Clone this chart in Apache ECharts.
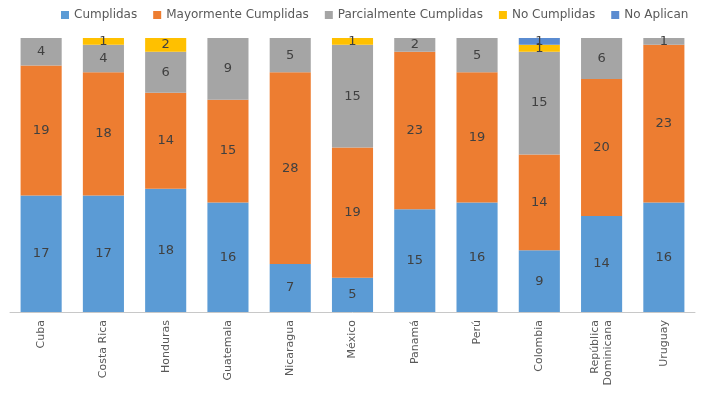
<!DOCTYPE html>
<html><head><meta charset="utf-8">
<script src="https://cdn.jsdelivr.net/npm/echarts@6/dist/echarts.min.js"></script>
<style>html,body{margin:0;padding:0;background:#fff}#c{width:701px;height:396px}</style>
</head><body><div id="c"></div>
<script>
var categories = ['Cuba','Costa Rica','Honduras','Guatemala','Nicaragua','México','Panamá','Perú','Colombia','República\nDominicana','Uruguay'];
var cumplidas = [17,17,18,16,7,5,15,16,9,14,16];
var mayormente = [19,18,14,15,28,19,23,19,14,20,23];
var parcialmente = [4,4,6,9,5,15,2,5,15,6,1];
var noCumplidas = [0,1,2,0,0,1,0,0,1,0,0];
var noAplican = [0,0,0,0,0,0,0,0,1,0,0];
var seriesNames = ['Cumplidas','Mayormente Cumplidas','Parcialmente Cumplidas','No Cumplidas','No Aplican'];
var colors = ['#5B9BD5','#ED7D31','#A5A5A5','#FFC000','#5A8BD0'];
var dataSets = [cumplidas, mayormente, parcialmente, noCumplidas, noAplican];
var FONT = 'DejaVu Sans, Verdana, sans-serif';

var chart = echarts.init(document.getElementById('c'));
chart.setOption({
  animation:false,
  legend:{top:4,left:56,itemWidth:8,itemHeight:8,itemGap:16,icon:'rect',
    textStyle:{color:'#595959',fontSize:12,fontFamily:FONT}},
  grid:{left:10,right:6,top:38,bottom:84,containLabel:false},
  xAxis:{type:'category',data:categories,
    axisLine:{lineStyle:{color:'#C8C8C8'}},axisTick:{show:false},
    axisLabel:{rotate:90,fontSize:11,color:'#595959',margin:8,fontFamily:FONT,lineHeight:13}},
  yAxis:{type:'value',min:0,max:40,show:false,splitLine:{show:false}},
  series: seriesNames.map(function(n,i){
    return {name:n,type:'bar',stack:'total',barWidth:'66%',data:dataSets[i],
      itemStyle:{color:colors[i]},
      label:{show:true,position:'inside',color:'#404040',fontSize:13,fontFamily:FONT,
        formatter:function(p){return p.value?String(p.value):'';}}};
  })
});
</script></body></html>
